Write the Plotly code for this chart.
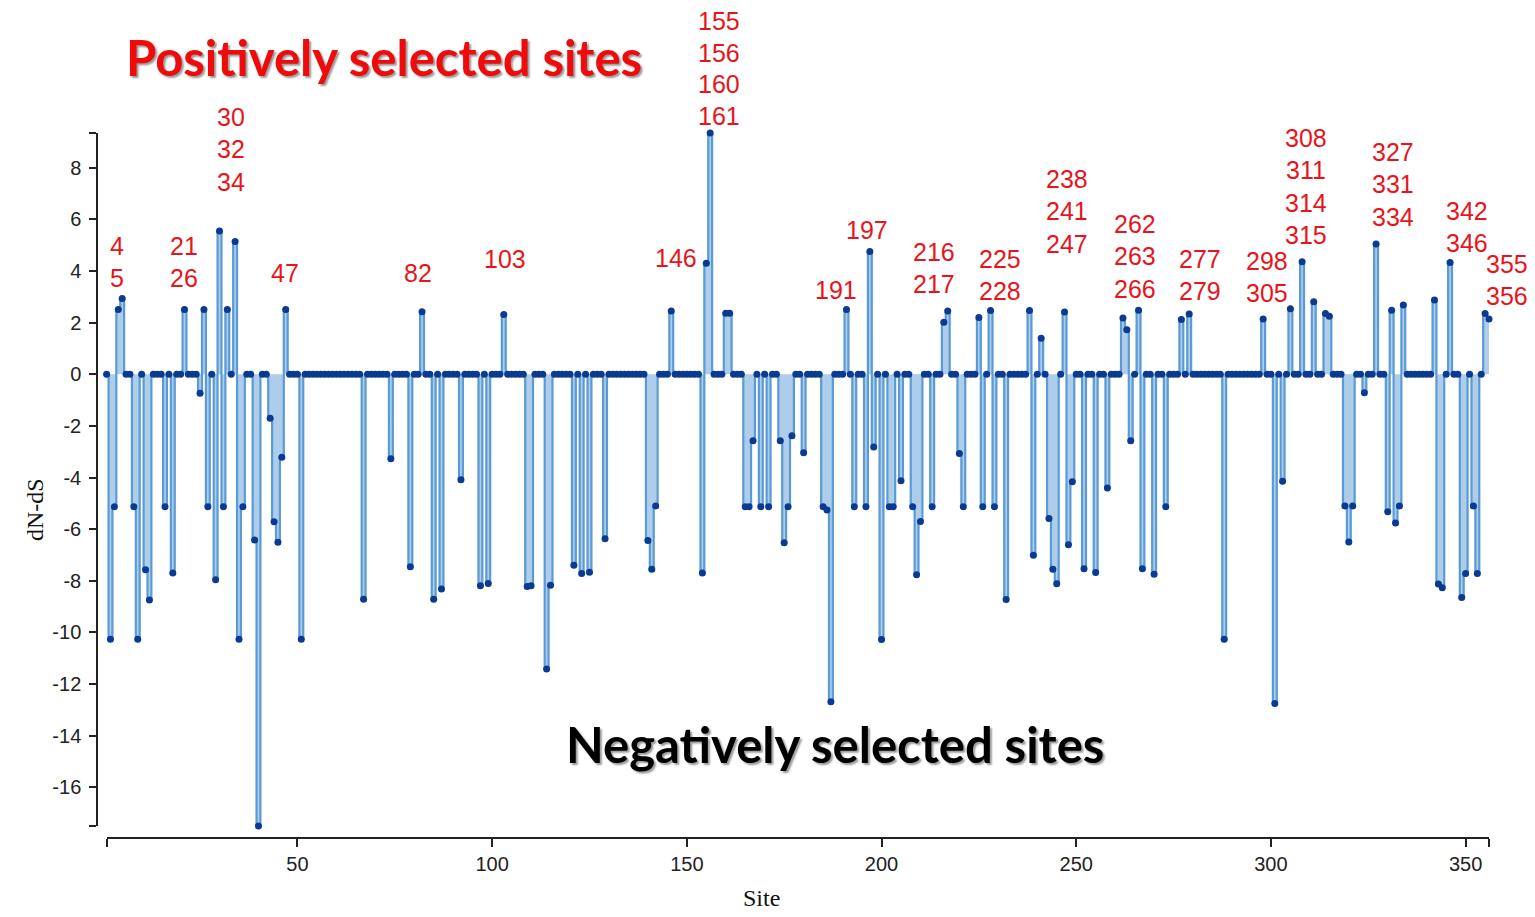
import plotly.graph_objects as go

# ---------------- data ----------------
n_sites = 356
sites = list(range(1, n_sites + 1))

pos_sites = [4, 5, 21, 26, 30, 32, 34, 47, 82, 103, 146, 155, 156, 160, 161,
             191, 197, 216, 217, 225, 228, 238, 241, 247, 262, 263, 266, 277,
             279, 298, 305, 308, 311, 314, 315, 327, 331, 334, 342, 346, 355, 356]
pos_values = [2.51, 2.94, 2.51, 2.51, 5.55, 2.51, 5.15, 2.51, 2.42, 2.32, 2.45, 4.30, 9.35, 2.37, 2.37,
              2.51, 4.76, 2.02, 2.45, 2.20, 2.47, 2.47, 1.40, 2.41, 2.18, 1.73, 2.48, 2.12,
              2.34, 2.14, 2.54, 4.36, 2.81, 2.36, 2.25, 5.05, 2.48, 2.69, 2.88, 4.33, 2.36, 2.14]

neg_sites = [2, 3, 8, 9, 11, 12, 16, 18, 25, 27, 29, 31, 35, 36, 39, 40, 43, 44, 45, 46, 51,
             67, 74, 79, 85, 87, 92, 97, 99, 109, 110, 114, 115, 121, 123, 125, 129, 140, 141, 142, 154,
             165, 166, 167, 169, 171, 174, 175, 176, 177, 180, 185, 186, 187, 193, 196, 198, 200,
             202, 203, 205, 208, 209, 210, 213, 220, 221, 226, 229, 232, 239, 243, 244, 245, 248,
             249, 252, 255, 258, 264, 267, 270, 273, 288, 301, 303, 319, 320, 321, 324, 330, 332,
             333, 343, 344, 349, 350, 352, 353]
neg_values = [-10.26, -5.13, -5.13, -10.26, -7.57, -8.74, -5.13, -7.70, -0.73, -5.13, -7.96, -5.13,
              -10.26, -5.13, -6.42, -17.50, -1.70, -5.71, -6.51, -3.21, -10.26,
              -8.71, -3.27, -7.46, -8.71, -8.32, -4.08, -8.19, -8.10, -8.22, -8.19, -11.42, -8.17,
              -7.40, -7.72, -7.67, -6.37, -6.44, -7.55, -5.10, -7.70,
              -5.13, -5.13, -2.57, -5.13, -5.13, -2.57, -6.53, -5.13, -2.38, -3.04, -5.13, -5.26,
              -12.69, -5.13, -5.13, -2.82, -10.27, -5.13, -5.13, -4.12, -5.13, -7.77, -5.70, -5.13,
              -3.07, -5.13, -5.13, -5.13, -8.72, -7.01, -5.59, -7.55, -8.11, -6.60, -4.16, -7.53,
              -7.68, -4.40, -2.57, -7.53, -7.75, -5.13, -10.26, -12.75, -4.14, -5.10, -6.50, -5.10,
              -0.71, -5.32, -5.76, -5.10, -8.12, -8.27, -8.65, -7.72, -5.10, -7.72]

x_ticks = [50, 100, 150, 200, 250, 300, 350]
y_ticks = [-16, -14, -12, -10, -8, -6, -4, -2, 0, 2, 4, 6, 8]

label_groups = [[4, 5], [21, 26], [30, 32, 34], [47], [82], [103], [146],
                [155, 156, 160, 161], [191], [197], [216, 217], [225, 228],
                [238, 241, 247], [262, 263, 266], [277, 279], [298, 305],
                [308, 311, 314, 315], [327, 331, 334], [342, 346], [355, 356]]

# ---------------- build series ----------------
dnds = [0.0] * n_sites
for s, v in zip(pos_sites, pos_values):
    dnds[s - 1] = v
for s, v in zip(neg_sites, neg_values):
    dnds[s - 1] = v

ymin, ymax = min(dnds), max(dnds)

# ---------------- layout geometry (screen pixels; page body has 8px margin) ----------------
OFF = 8
W, H = 1535 - OFF, 917 - OFF
ML = 97 - OFF
MT = 133 - OFF
MB = H - (838 - OFF)
MR = W - (1489 - OFF)
PW, PH = W - ML - MR, H - MT - MB


def px2paper(px, py):
    fx, fy = px - OFF, py - OFF
    return (fx - ML) / PW, (H - MB - fy) / PH


# label anchor positions (screen-pixel centres of first line) and line gaps -- layout only
label_pos = [(117, 246), (184, 246), (231, 117), (285, 273), (418, 273), (505, 259),
             (676, 258), (719, 21), (836, 290), (867, 230), (934, 252), (1000, 259),
             (1067, 179), (1135, 224), (1200, 259), (1267, 261), (1306, 138),
             (1393, 152), (1467, 211), (1507, 264)]
label_gap = [32.3] * 7 + [31.7] + [32.3] * 12

fig = go.Figure()
fig.add_trace(go.Scatter(
    x=sites, y=dnds,
    mode="lines+markers",
    line=dict(shape="hvh", color="#5b9bd5", width=2.2),
    fill="tozeroy",
    fillcolor="rgba(91,155,213,0.5)",
    marker=dict(color="#0b3a91", size=7),
    cliponaxis=False,
    showlegend=False,
    hoverinfo="x+y",
))

annotations = []
for grp, (gx, gy), gap in zip(label_groups, label_pos, label_gap):
    for i, site in enumerate(grp):
        ax, ay = px2paper(gx, gy + i * gap)
        annotations.append(dict(
            x=ax, y=ay, xref="paper", yref="paper", text=str(site),
            showarrow=False, xanchor="center", yanchor="middle",
            font=dict(family="Liberation Sans, Arial", size=25, color="#e8141c"),
        ))

ax, ay = px2paper(384, 57)
annotations.append(dict(
    x=ax, y=ay, xref="paper", yref="paper", text="Positively selected sites",
    showarrow=False, xanchor="center", yanchor="middle",
    font=dict(family="Lato", size=49, color="#f00a0a", weight="bold",
              shadow="2px 2px 2px #999"),
))
ax, ay = px2paper(835, 744)
annotations.append(dict(
    x=ax, y=ay, xref="paper", yref="paper", text="Negatively selected sites",
    showarrow=False, xanchor="center", yanchor="middle",
    font=dict(family="Lato", size=49, color="#000000", weight="bold",
              shadow="2px 2px 2px #999"),
))
ax, ay = px2paper(761, 898)
annotations.append(dict(
    x=ax, y=ay, xref="paper", yref="paper", text="Site",
    showarrow=False, xanchor="center", yanchor="middle",
    font=dict(family="Liberation Serif, Times New Roman", size=24, color="#111"),
))
ax, ay = px2paper(35, 510)
annotations.append(dict(
    x=ax, y=ay, xref="paper", yref="paper", text="dN-dS", textangle=-90,
    showarrow=False, xanchor="center", yanchor="middle",
    font=dict(family="Liberation Serif, Times New Roman", size=24, color="#111"),
))

xv = [1] + x_ticks + [n_sites]
yv = [ymin] + y_ticks + [ymax]

fig.update_layout(
    width=W, height=H,
    margin=dict(l=ML, r=MR, t=MT, b=MB, pad=0),
    paper_bgcolor="white", plot_bgcolor="white",
    showlegend=False,
    annotations=annotations,
    xaxis=dict(
        domain=[(106.6 - OFF - ML) / PW, 1], range=[1, n_sites],
        anchor="free", position=0,
        showline=True, linecolor="#222", linewidth=1.5,
        ticks="outside", ticklen=8, tickwidth=1.5, tickcolor="#222",
        tickvals=xv, ticktext=[""] + [str(t) for t in x_ticks] + [""],
        tickfont=dict(family="Liberation Sans Narrow, Liberation Sans, Arial", size=20, color="#222"),
        showgrid=False, zeroline=False,
    ),
    yaxis=dict(
        domain=[(H - MB - (826 - OFF)) / PH, 1], range=[ymin, ymax],
        anchor="free", position=0,
        showline=True, linecolor="#222", linewidth=1.5,
        ticks="outside", ticklen=7, tickwidth=1.5, tickcolor="#222",
        tickvals=yv, ticktext=[""] + [str(t) for t in y_ticks] + [""],
        tickfont=dict(family="Liberation Sans, Arial", size=20, color="#222"),
        ticklabelstandoff=4,
        showgrid=False, zeroline=False,
    ),
)

fig.write_html("out.html")
